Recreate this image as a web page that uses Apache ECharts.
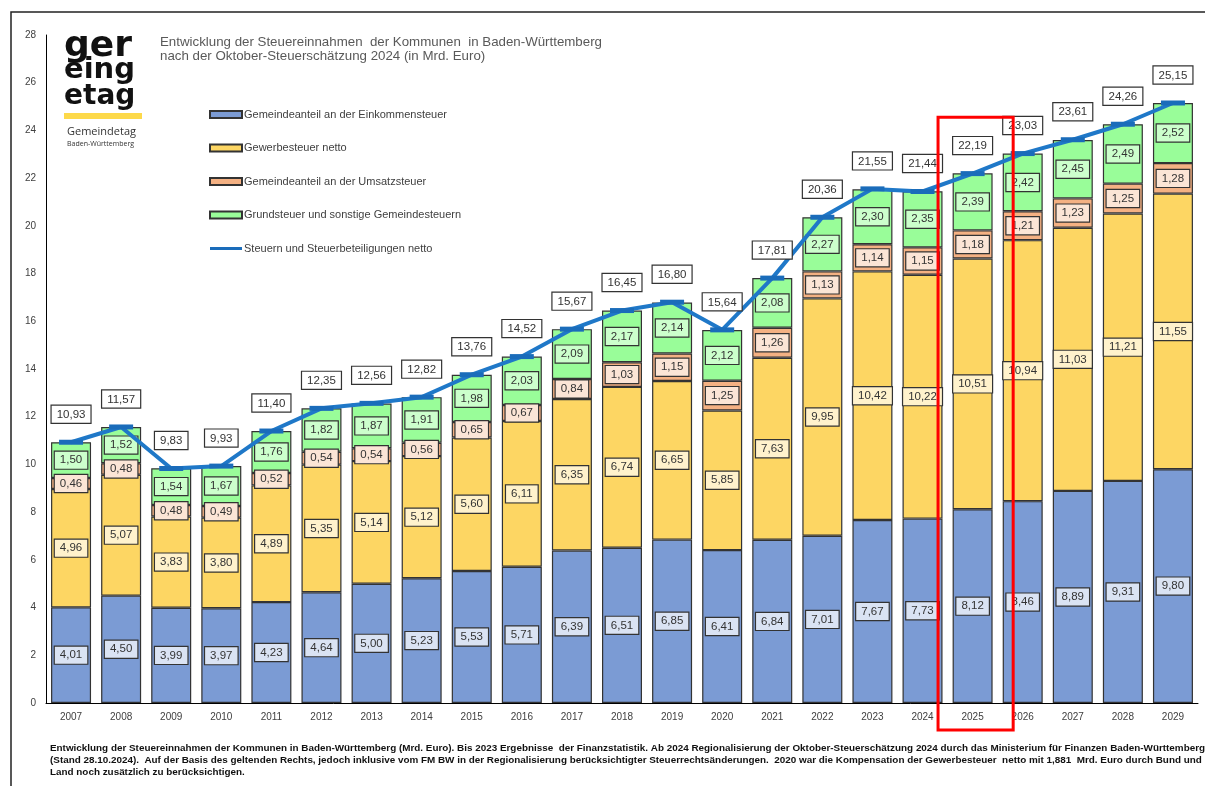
<!DOCTYPE html>
<html>
<head>
<meta charset="utf-8">
<script src="https://cdn.jsdelivr.net/npm/echarts@6/dist/echarts.min.js"></script>
<style>
  html, body { margin: 0; padding: 0; background: #fff; }
  #chart { width: 1205px; height: 786px; }
</style>
</head>
<body>
<div id="chart"></div>
<script>
const years = ['2007', '2008', '2009', '2010', '2011', '2012', '2013', '2014', '2015', '2016', '2017', '2018',
    '2019', '2020', '2021', '2022', '2023', '2024', '2025', '2026', '2027', '2028', '2029'];
const einkommensteuer = [4.01, 4.50, 3.99, 3.97, 4.23, 4.64, 5.00, 5.23, 5.53, 5.71, 6.39, 6.51,
    6.85, 6.41, 6.84, 7.01, 7.67, 7.73, 8.12, 8.46, 8.89, 9.31, 9.80];
const gewerbesteuer = [4.96, 5.07, 3.83, 3.80, 4.89, 5.35, 5.14, 5.12, 5.60, 6.11, 6.35, 6.74,
    6.65, 5.85, 7.63, 9.95, 10.42, 10.22, 10.51, 10.94, 11.03, 11.21, 11.55];
const umsatzsteuer = [0.46, 0.48, 0.48, 0.49, 0.52, 0.54, 0.54, 0.56, 0.65, 0.67, 0.84, 1.03,
    1.15, 1.25, 1.26, 1.13, 1.14, 1.15, 1.18, 1.21, 1.23, 1.25, 1.28];
const grundsteuer = [1.50, 1.52, 1.54, 1.67, 1.76, 1.82, 1.87, 1.91, 1.98, 2.03, 2.09, 2.17,
    2.14, 2.12, 2.08, 2.27, 2.30, 2.35, 2.39, 2.42, 2.45, 2.49, 2.52];
const gesamt = [10.93, 11.57, 9.83, 9.93, 11.40, 12.35, 12.56, 12.82, 13.76, 14.52, 15.67, 16.45,
    16.80, 15.64, 17.81, 20.36, 21.55, 21.44, 22.19, 23.03, 23.61, 24.26, 25.15];
const yTicks = [0, 2, 4, 6, 8, 10, 12, 14, 16, 18, 20, 22, 24, 26, 28];
const highlightYear = '2025';

const fmt = v => v.toFixed(2).replace('.', ',');
const font = 'Liberation Sans, Arial, sans-serif';

function barSeries(name, data, color, labelBg) {
    return {
        name: name,
        type: 'bar',
        stack: 'total',
        barWidth: 40,
        data: data,
        itemStyle: {color: color, borderColor: '#333', borderWidth: 1.2},
        label: {
            show: true,
            position: 'inside',
            formatter: p => fmt(p.value),
            fontFamily: font,
            fontSize: 11.5,
            color: '#333',
            backgroundColor: labelBg,
            borderColor: '#333',
            borderWidth: 1.2,
            padding: [3, 5, 2, 5],
        },
        emphasis: {disabled: true},
    };
}

const chart = echarts.init(document.getElementById('chart'), null, {renderer: 'canvas'});

const option = {
    animation: false,
    title: {
        text: 'Entwicklung der Steuereinnahmen  der Kommunen  in Baden-Württemberg\nnach der Oktober-Steuerschätzung 2024 (in Mrd. Euro)',
        left: 155,
        top: 30,
        textStyle: {fontFamily: font, fontSize: 13.3, fontWeight: 'normal', color: '#595959', lineHeight: 14},
    },
    legend: {
        orient: 'vertical',
        left: 204,
        top: 104,
        itemWidth: 32,
        itemHeight: 7,
        itemGap: 22.5,
        textStyle: {fontFamily: font, fontSize: 11, color: '#404040', padding: [0, 0, 0, -3]},
        data: [
            {name: 'Gemeindeanteil an der Einkommensteuer', icon: 'rect'},
            {name: 'Gewerbesteuer netto', icon: 'rect'},
            {name: 'Gemeindeanteil an der Umsatzsteuer', icon: 'rect'},
            {name: 'Grundsteuer und sonstige Gemeindesteuern', icon: 'rect'},
            {name: 'Steuern und Steuerbeteiligungen netto', icon: 'path://M0,0L32,0L32,3L0,3Z'},
        ],
    },
    grid: {left: 46, right: 7, top: 35, bottom: 83},
    xAxis: {
        type: 'category',
        data: years,
        axisLine: {lineStyle: {color: '#000', width: 1}},
        axisTick: {show: false},
        axisLabel: {fontFamily: font, fontSize: 10, color: '#404040', margin: 9},
    },
    yAxis: {
        type: 'value',
        min: yTicks[0],
        max: yTicks[yTicks.length - 1],
        interval: 2,
        splitLine: {show: false},
        axisLine: {show: true, lineStyle: {color: '#000', width: 1}},
        axisTick: {show: false},
        axisLabel: {fontFamily: font, fontSize: 10, color: '#404040', margin: 10},
    },
    series: [
        barSeries('Gemeindeanteil an der Einkommensteuer', einkommensteuer, '#7b9bd4', '#dae3f3'),
        barSeries('Gewerbesteuer netto', gewerbesteuer, '#fdd663', '#fff2cc'),
        barSeries('Gemeindeanteil an der Umsatzsteuer', umsatzsteuer, '#f4b183', '#fbe5d6'),
        barSeries('Grundsteuer und sonstige Gemeindesteuern', grundsteuer, '#99fd99', '#ccffcc'),
        {
            name: 'Steuern und Steuerbeteiligungen netto',
            type: 'line',
            data: gesamt,
            z: 5,
            lineStyle: {color: '#1f78c8', width: 4},
            itemStyle: {color: '#1a6cba'},
            symbol: 'rect',
            symbolSize: [24, 5],
            label: {
                show: true,
                position: 'top',
                distance: 17,
                formatter: p => fmt(p.value),
                fontFamily: font,
                fontSize: 11.5,
                color: '#333',
                backgroundColor: '#fff',
                borderColor: '#333',
                borderWidth: 1.2,
                padding: [3, 5, 2, 5],
            },
            emphasis: {disabled: true},
        },
    ],
    graphic: [
        // outer frame
        {id: 'frame', type: 'rect', shape: {x: 11, y: 12, width: 1300, height: 900}, silent: true,
         style: {fill: null, stroke: '#222', lineWidth: 1.5}},
        // logo
        {id: 'logo', type: 'group', left: 64, top: 29, children: [
            {type: 'text', x: 0, y: 0, style: {text: 'ger', font: '900 36px "DejaVu Sans"', fill: '#111'}},
            {type: 'text', x: 0, y: 27, style: {text: 'eing', font: '900 29px "DejaVu Sans"', fill: '#111'}},
            {type: 'text', x: 0, y: 54, style: {text: 'etag', font: '900 28px "DejaVu Sans"', fill: '#111'}},
            {type: 'rect', shape: {x: 0, y: 84, width: 78, height: 6}, style: {fill: '#fdd94a'}},
            {type: 'text', x: 3, y: 97, style: {text: 'Gemeindetag', font: '11px "Open Sans"', fill: '#333'}},
            {type: 'text', x: 3, y: 111, style: {text: 'Baden-Württemberg', font: '7px "Open Sans"', fill: '#333'}},
        ]},
        // footnote
        {id: 'note', type: 'text', left: 50, top: 742, silent: true, style: {
            text: 'Entwicklung der Steuereinnahmen der Kommunen in Baden-Württemberg (Mrd. Euro). Bis 2023 Ergebnisse  der Finanzstatistik. Ab 2024 Regionalisierung der Oktober-Steuerschätzung 2024 durch das Ministerium für Finanzen Baden-Württemberg\n' +
                  '(Stand 28.10.2024).  Auf der Basis des geltenden Rechts, jedoch inklusive vom FM BW in der Regionalisierung berücksichtigter Steuerrechtsänderungen.  2020 war die Kompensation der Gewerbesteuer  netto mit 1,881  Mrd. Euro durch Bund und\n' +
                  'Land noch zusätzlich zu berücksichtigen.',
            font: 'bold 9.9px "Liberation Sans"', fill: '#111', lineHeight: 12,
        }},
    ],
};

chart.setOption(option);

// red highlight box around the selected year
const cx = chart.convertToPixel({xAxisIndex: 0}, highlightYear) + 3;
const step = chart.convertToPixel({xAxisIndex: 0}, years[1]) - chart.convertToPixel({xAxisIndex: 0}, years[0]);
const yTop = chart.convertToPixel({yAxisIndex: 0}, 24.55);
const yBottom = chart.convertToPixel({yAxisIndex: 0}, 0) + 27;
chart.setOption({
    graphic: [{
        id: 'highlight', type: 'rect', z: 100, silent: true,
        shape: {x: cx - step * 0.75, y: yTop, width: step * 1.5, height: yBottom - yTop},
        style: {fill: null, stroke: '#ff0000', lineWidth: 3},
    }],
});
</script>
</body>
</html>
